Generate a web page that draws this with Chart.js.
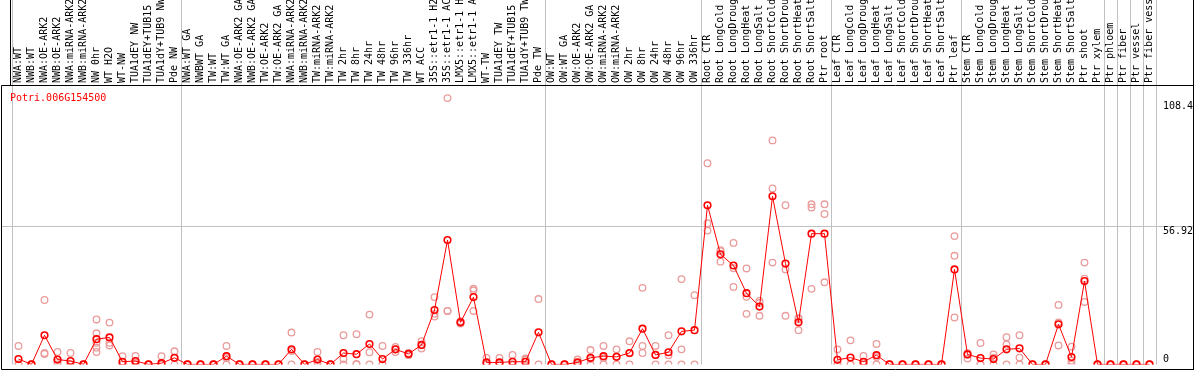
<!DOCTYPE html>
<html>
<head>
<meta charset="utf-8">
<script src="https://cdn.jsdelivr.net/npm/chart.js@4.4.1/dist/chart.umd.min.js"></script>
<style>
  html, body { margin: 0; padding: 0; background: #fff; }
  canvas { display: block; }
</style>
</head>
<body>
<canvas id="myChart" width="1194" height="370"></canvas>
<script>
const GENE = 'Potri.006G154500';

const categories = [
    'NWA:WT', 'NWB:WT', 'NWA:OE-ARK2', 'NWB:OE-ARK2', 'NWA:miRNA-ARK2', 'NWB:miRNA-ARK2',
    'NW 0hr', 'WT H2O', 'WT-NW', 'TUA1dEY NW', 'TUA1dEY+TUB15 NW', 'TUA1dY+TUB9 NW', 'Pde NW',
    'NWA:WT GA', 'NWBWT GA', 'TW:WT', 'TW:WT GA', 'NWA:OE-ARK2 GA', 'NWB:OE-ARK2 GA',
    'TW:OE-ARK2', 'TW:OE-ARK2 GA', 'NWA:miRNA-ARK2', 'NWB:miRNA-ARK2', 'TW:miRNA-ARK2', 'TW:miRNA-ARK2',
    'TW 2hr', 'TW 8hr', 'TW 24hr', 'TW 48hr', 'TW 96hr', 'TW 336hr', 'WT ACC',
    '35S::etr1-1 H2O', '35S::etr1-1 ACC', 'LMX5::etr1-1 H2O', 'LMX5::etr1-1 ACC',
    'WT-TW', 'TUA1dEY TW', 'TUA1dEY+TUB15 TW', 'TUA1dY+TUB9 TW', 'Pde TW',
    'OW:WT', 'OW:WT GA', 'OW:OE-ARK2', 'OW:OE-ARK2 GA', 'OW:miRNA-ARK2', 'OW:miRNA-ARK2',
    'OW 2hr', 'OW 8hr', 'OW 24hr', 'OW 48hr', 'OW 96hr', 'OW 336hr',
    'Root CTR', 'Root LongCold', 'Root LongDrought', 'Root LongHeat', 'Root LongSalt',
    'Root ShortCold', 'Root ShortDrought', 'Root ShortHeat', 'Root ShortSalt', 'Ptr root',
    'Leaf CTR', 'Leaf LongCold', 'Leaf LongDrought', 'Leaf LongHeat', 'Leaf LongSalt',
    'Leaf ShortCold', 'Leaf ShortDrought', 'Leaf ShortHeat', 'Leaf ShortSalt', 'Ptr leaf',
    'Stem CTR', 'Stem LongCold', 'Stem LongDrought', 'Stem LongHeat', 'Stem LongSalt',
    'Stem ShortCold', 'Stem ShortDrought', 'Stem ShortHeat', 'Stem ShortSalt', 'Ptr shoot',
    'Ptr xylem', 'Ptr phloem', 'Ptr fiber', 'Ptr vessel', 'Ptr fiber vessel'
];

// mean expression (red line)
const meanValues = [
    2.2, 0, 12.0, 2.0, 1.4, 0, 10.4, 11.1, 1.1, 1.4, 0, 0.5, 2.7,
    0, 0, 0, 3.4, 0, 0, 0, 0, 6.2, 0, 2.0, 0, 4.7, 4.2, 8.4, 2.2, 6.2, 4.3, 8.0,
    22.4, 51.2, 17.3, 27.7, 0.8, 0.8, 1.1, 1.1, 13.2,
    0, 0, 0.8, 2.7, 3.4, 3.1, 4.7, 14.7, 3.9, 5.0, 13.6, 14.1,
    65.5, 45.3, 40.7, 29.3, 23.8, 69.2, 41.5, 17.3, 53.8, 53.8,
    1.9, 2.8, 1.1, 3.8, 0, 0, 0, 0, 0, 39.1,
    4.1, 2.6, 2.2, 6.2, 6.6, 0, 0, 16.5, 3.0, 34.3,
    0, 0, 0, 0, 0
];

// replicates (pink circles)
const rep1 = [
    7.6, 0, 26.5, 5.1, 4.7, 0, 18.5, 17.2, 3.4, 3.5, 0, 3.4, 5.4,
    0, 0, 0, 7.6, 0, 0, 0, 0, 13.1, 0, 5.1, 0, 12.0, 12.4, 20.5, 7.6, 7.2, 4.7, 9.6,
    27.7, 109.6, 17.8, 31.2, 2.7, 2.7, 3.9, 2.4, 26.9,
    0, 0, 2.0, 5.9, 7.6, 6.2, 9.5, 31.5, 7.6, 12.0, 35.1, 28.5,
    82.8, 47.0, 50.0, 39.5, 26.1, 92.2, 65.5, 19.1, 65.9, 65.9,
    6.2, 9.9, 3.5, 8.4, 0, 0, 0, 0, 0, 52.8,
    4.6, 8.8, 4.1, 11.2, 12.0, 0, 0, 24.5, 7.3, 41.9,
    0, 0, 0, 0, 0
];
const rep2 = [
    0, 0, 4.7, 1.0, 0, 0, 12.8, 8.9, 0, 0.7, 0, 0, 2.7,
    0, 0, 0, 2.6, 0, 0, 0, 0, 5.5, 0, 1.0, 0, 2.2, 0.2, 5.0, 0, 6.2, 4.4, 8.0,
    20.8, 22.0, 17.3, 30.5, 0, 0, 0, 1.9, 0,
    0, 0, 0.5, 2.2, 2.6, 3.1, 4.6, 7.6, 3.9, 3.8, 6.2, 0,
    58.1, 46.6, 39.6, 27.8, 25.3, 72.4, 39.1, 18.6, 64.6, 61.9,
    0, 0, 0, 3.0, 0, 0, 0, 0, 0, 44.7,
    4.1, 0, 2.8, 8.2, 2.8, 0, 0, 17.3, 1.5, 35.3,
    0, 0, 0, 0, 0
];
const rep3 = [
    0, 0, 4.3, 0, 0, 0, 5.1, 7.8, 0, 0, 0, 0, 0,
    0, 0, 0, 0, 0, 0, 0, 0, 0, 0, 0, 0, 0, 0, 0, 0, 5.1, 3.8, 6.5,
    19.7, 22.0, 16.8, 22.0, 0, 0, 0, 0, null,
    0, 0, 0, 0, 0, 0, 0, 4.7, 0, 0, 0, null,
    55.1, 42.3, 31.9, 20.8, 20.0, 41.9, 20.0, 14.1, 31.1, 33.8,
    0, 0, 0, 0, 0, 0, 0, 0, 0, 19.3,
    2.4, 0, 0, 0, 0, 0, 0, 7.8, 0, 25.7,
    0, 0, 0, 0, 0
];
const extraReps = [['NW 0hr', 8.9], ['NW 0hr', 6.9]];

const yTicks = [0, 56.92, 108.4];
const groupStarts = [0, 13, 41, 53, 63, 73, 84, 85, 86, 87, 88];

const FONT = 'DejaVu Sans Mono';
const GRID = '#c0c0c0';
const RED = '#ff0000';
const PINK = '#ea9c9c';

const frame = {
    id: 'frame',
    afterDraw(chart) {
        const ctx = chart.ctx;
        const y = chart.scales.y;
        const area = chart.chartArea;
        ctx.save();
        // 56.92 grid line continues to the left edge
        const gy = Math.round(y.getPixelForValue(yTicks[1])) + 0.5;
        ctx.strokeStyle = GRID;
        ctx.lineWidth = 1;
        ctx.beginPath();
        ctx.moveTo(1, gy);
        ctx.lineTo(area.left, gy);
        ctx.stroke();

        ctx.strokeStyle = '#000';
        ctx.beginPath();
        ctx.moveTo(1.5, 369.5);
        ctx.lineTo(1.5, 85.5);
        ctx.lineTo(1193.5, 85.5);
        ctx.moveTo(1.5, 369.5);
        ctx.lineTo(1193.5, 369.5);
        ctx.moveTo(10.5, 0);
        ctx.lineTo(10.5, 85.5);
        ctx.moveTo(1193.5, 0);
        ctx.lineTo(1193.5, 370);
        ctx.stroke();

        ctx.fillStyle = RED;
        ctx.font = `10px "${FONT}"`;
        ctx.textBaseline = 'alphabetic';
        ctx.fillText(GENE, 10, 101);
        ctx.restore();
    }
};

const repSet = (data) => ({
    data: data,
    showLine: false,
    borderColor: PINK,
    backgroundColor: 'rgba(0,0,0,0)',
    pointRadius: 3.3,
    pointBorderWidth: 1.3,
    order: 2
});

const chart = new Chart(document.getElementById('myChart'), {
    type: 'line',
    data: {
        labels: categories,
        datasets: [
            {
                data: meanValues,
                borderColor: RED,
                borderWidth: 1,
                backgroundColor: 'rgba(0,0,0,0)',
                pointBorderColor: RED,
                pointRadius: 3.3,
                pointBorderWidth: 1.6,
                tension: 0,
                order: 0
            },
            repSet(rep1),
            repSet(rep2),
            repSet(rep3),
            repSet(extraReps.map(r => ({ x: r[0], y: r[1] })))
        ]
    },
    options: {
        responsive: false,
        devicePixelRatio: 1,
        animation: false,
        layout: { padding: { left: 12, bottom: 1, top: 0, right: 0 } },
        plugins: {
            legend: { display: false },
            tooltip: { enabled: false }
        },
        scales: {
            x: {
                type: 'category',
                position: 'top',
                offset: true,
                afterFit: (s) => { s.height = 85; s.paddingLeft = 0; s.paddingRight = 0; },
                border: { display: false },
                grid: {
                    offset: true,
                    drawTicks: true,
                    tickLength: 85,
                    color: (c) => (c.index === undefined || groupStarts.includes(c.index)) ? GRID : 'rgba(0,0,0,0)'
                },
                ticks: {
                    autoSkip: false,
                    minRotation: 90,
                    maxRotation: 90,
                    padding: -83,
                    labelOffset: 12,
                    color: '#000',
                    font: { family: FONT, size: 10 }
                }
            },
            y: {
                position: 'right',
                min: 0,
                max: 115,
                afterBuildTicks: (s) => { s.ticks = yTicks.map(v => ({ value: v })); },
                afterFit: (s) => { s.width = 38; s.paddingTop = 0; s.paddingBottom = 0; },
                border: { display: false },
                grid: {
                    drawTicks: true,
                    tickLength: 38,
                    color: (c) => (c.tick && c.tick.value === yTicks[1]) ? GRID : 'rgba(0,0,0,0)'
                },
                ticks: {
                    padding: -31,
                    color: '#000',
                    font: { family: FONT, size: 10, lineHeight: 1 },
                    callback: (v) => v === 0 ? ['0', ''] : ['', String(v)]
                }
            }
        }
    },
    plugins: [frame]
});
</script>
</body>
</html>
